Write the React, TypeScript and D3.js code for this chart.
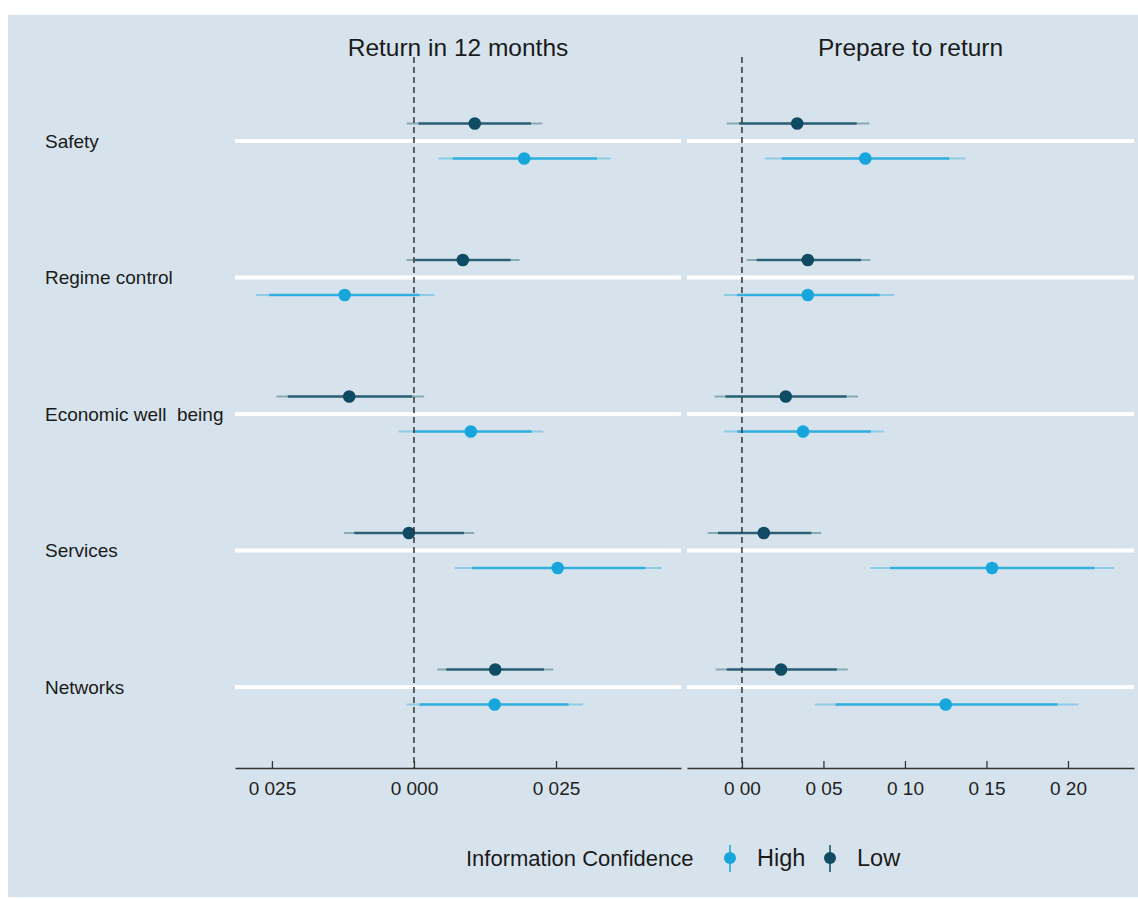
import React, { useEffect, useRef } from 'react';
import * as d3 from 'd3';

const categories = ['Safety', 'Regime control', 'Economic well  being', 'Services', 'Networks'];
const panelTitles = ['Return in 12 months', 'Prepare to return'];
const seriesNames = ['High', 'Low'];

// each row: [outer low, inner low, estimate, inner high, outer high]
const return12High = [
  [0.0043, 0.0068, 0.0194, 0.0322, 0.0346],
  [-0.0278, -0.0255, -0.0122, 0.0010, 0.0036],
  [-0.0027, 0.0000, 0.0100, 0.0207, 0.0228],
  [0.0072, 0.0102, 0.0253, 0.0407, 0.0436],
  [-0.0013, 0.0010, 0.0142, 0.0272, 0.0298],
];
const return12Low = [
  [-0.0013, 0.0008, 0.0107, 0.0206, 0.0226],
  [-0.0013, 0.0002, 0.0086, 0.0170, 0.0186],
  [-0.0242, -0.0222, -0.0114, -0.0003, 0.0018],
  [-0.0123, -0.0105, -0.0009, 0.0088, 0.0106],
  [0.0041, 0.0057, 0.0143, 0.0229, 0.0245],
];
const prepareHigh = [
  [0.0141, 0.0244, 0.0757, 0.1272, 0.1372],
  [-0.0111, -0.0029, 0.0404, 0.0845, 0.0934],
  [-0.0111, -0.0029, 0.0375, 0.0791, 0.0869],
  [0.0788, 0.0909, 0.1534, 0.2163, 0.2283],
  [0.0447, 0.0575, 0.1250, 0.1936, 0.2063],
];
const prepareLow = [
  [-0.0094, -0.0017, 0.0339, 0.0704, 0.0782],
  [0.0028, 0.0091, 0.0404, 0.0731, 0.0788],
  [-0.0168, -0.0101, 0.0269, 0.0642, 0.0713],
  [-0.0210, -0.0147, 0.0134, 0.0426, 0.0486],
  [-0.0161, -0.0093, 0.0240, 0.0582, 0.0649],
];

const return12Domain = [-0.0315, 0.047];
const prepareDomain = [-0.0337, 0.2405];
const return12Ticks = [-0.025, 0, 0.025];
const return12TickLabels = ['0 025', '0 000', '0 025'];
const prepareTicks = [0, 0.05, 0.1, 0.15, 0.2];
const prepareTickLabels = ['0 00', '0 05', '0 10', '0 15', '0 20'];

const FONT = '"Liberation Sans", Arial, Helvetica, sans-serif';
const colors = { High: '#17a6dc', Low: '#0f4b62' };

const App = () => {
  const svgRef = useRef(null);

  useEffect(() => {
    if (!svgRef.current) return;
    const width = 1138;
    const height = 899;
    const svg = d3.select(svgRef.current).attr('width', width).attr('height', height);
    svg.selectAll('*').remove();

    svg.append('rect').attr('x', 8).attr('y', 15).attr('width', 1130).attr('height', 882).attr('fill', '#d6e3ec');

    const plotTop = 60;
    const plotBottom = 768;
    const y = d3.scalePoint().domain(categories).range([plotTop, plotBottom]).padding(0.593);
    const dodge = d3.scalePoint().domain(['Low', 'High']).range([-17.5, 17.5]);

    const panels = [
      { title: panelTitles[0], domain: return12Domain, range: [235, 681], ticks: return12Ticks, labels: return12TickLabels, High: return12High, Low: return12Low },
      { title: panelTitles[1], domain: prepareDomain, range: [687, 1134], ticks: prepareTicks, labels: prepareTickLabels, High: prepareHigh, Low: prepareLow },
    ];

    panels.forEach(p => {
      const x = d3.scaleLinear().domain(p.domain).range(p.range);
      const g = svg.append('g');

      // white horizontal grid lines
      g.selectAll('.grid').data(categories).join('line')
        .attr('x1', p.range[0]).attr('x2', p.range[1])
        .attr('y1', d => y(d)).attr('y2', d => y(d))
        .attr('stroke', '#ffffff').attr('stroke-width', 4);

      // panel title
      g.append('text')
        .attr('x', (p.range[0] + p.range[1]) / 2).attr('y', 47).attr('dy', '0.35em')
        .attr('text-anchor', 'middle').attr('font-family', FONT).attr('font-size', 24.5)
        .attr('fill', '#1a1a1a').text(p.title);

      seriesNames.forEach(s => {
        const rows = p[s].map((v, i) => ({ cat: categories[i], v }));
        const sg = g.append('g');
        sg.selectAll('.outer').data(rows).join('line')
          .attr('x1', d => x(d.v[0])).attr('x2', d => x(d.v[4]))
          .attr('y1', d => y(d.cat) + dodge(s)).attr('y2', d => y(d.cat) + dodge(s))
          .attr('stroke', colors[s]).attr('stroke-opacity', 0.38).attr('stroke-width', 2);
        sg.selectAll('.inner').data(rows).join('line')
          .attr('x1', d => x(d.v[1])).attr('x2', d => x(d.v[3]))
          .attr('y1', d => y(d.cat) + dodge(s)).attr('y2', d => y(d.cat) + dodge(s))
          .attr('stroke', colors[s]).attr('stroke-opacity', 0.78).attr('stroke-width', 2.5);
        sg.selectAll('circle').data(rows).join('circle')
          .attr('cx', d => x(d.v[2])).attr('cy', d => y(d.cat) + dodge(s))
          .attr('r', 6.3).attr('fill', colors[s]);
      });

      // zero reference line
      g.append('line')
        .attr('x1', x(0)).attr('x2', x(0)).attr('y1', plotTop - 3).attr('y2', plotBottom)
        .attr('stroke', '#333').attr('stroke-width', 1.5).attr('stroke-dasharray', '6,4');

      const axis = d3.axisBottom(x)
        .tickValues(p.ticks)
        .tickFormat((d, i) => p.labels[i])
        .tickSizeInner(-7).tickSizeOuter(0).tickPadding(14);
      const ag = g.append('g').attr('transform', `translate(0,${plotBottom})`).call(axis);
      ag.attr('font-family', FONT).attr('font-size', 19);
      ag.select('.domain').attr('stroke', '#333').attr('stroke-width', 1.3);
      ag.selectAll('.tick line').attr('stroke', '#333').attr('stroke-width', 1.3);
      ag.selectAll('.tick text').attr('fill', '#222');
    });

    // category labels
    svg.append('g').selectAll('text').data(categories).join('text')
      .attr('x', 45).attr('y', d => y(d)).attr('dy', '0.35em')
      .attr('font-family', FONT).attr('font-size', 19).attr('fill', '#1a1a1a')
      .style('white-space', 'pre')
      .text(d => d);

    // legend
    const lg = svg.append('g');
    lg.append('text').attr('x', 466).attr('y', 858).attr('dy', '0.35em')
      .attr('font-family', FONT).attr('font-size', 22).attr('fill', '#1a1a1a')
      .text('Information Confidence');
    const keyX = { High: 730, Low: 830 };
    seriesNames.forEach(s => {
      lg.append('line').attr('x1', keyX[s]).attr('x2', keyX[s]).attr('y1', 845).attr('y2', 872)
        .attr('stroke', colors[s]).attr('stroke-width', 1.5);
      lg.append('circle').attr('cx', keyX[s]).attr('cy', 858).attr('r', 6).attr('fill', colors[s]);
      lg.append('text').attr('x', keyX[s] + 27).attr('y', 858).attr('dy', '0.35em')
        .attr('font-family', FONT).attr('font-size', 23.5).attr('fill', '#1a1a1a')
        .text(s);
    });
  }, []);

  return (
    <svg ref={svgRef} style={{ position: 'absolute', left: 0, top: 0, display: 'block' }} />
  );
};

export default App;
